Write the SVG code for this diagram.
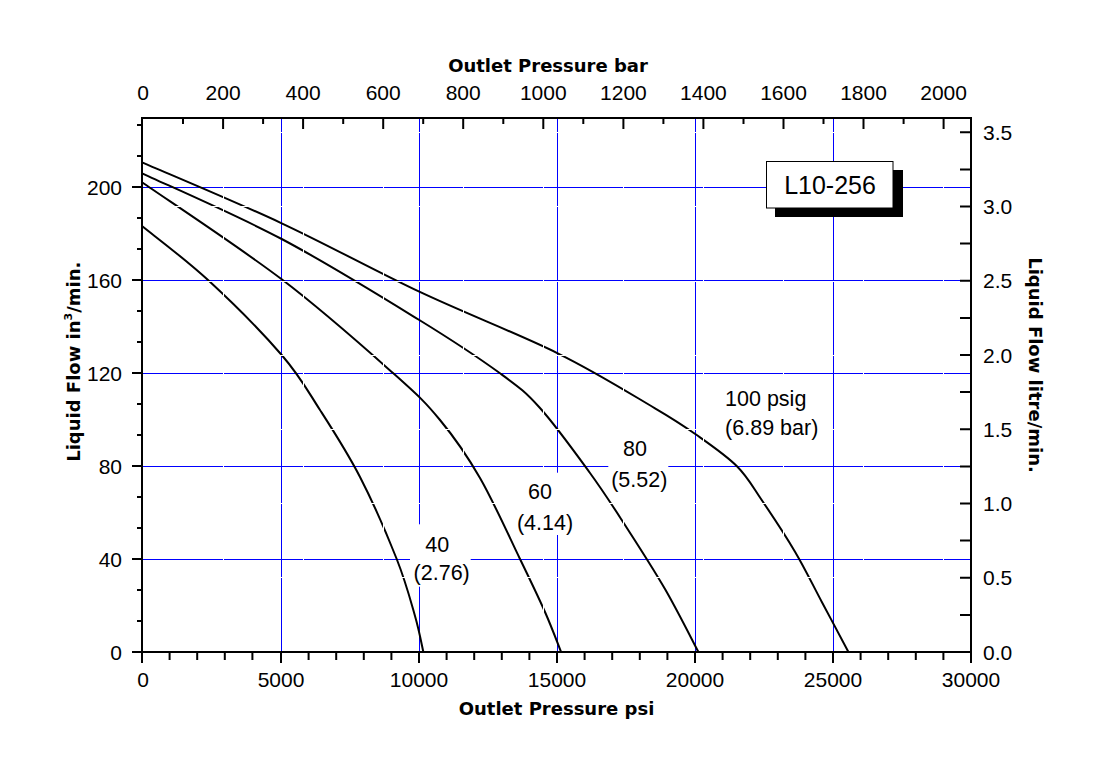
<svg xmlns="http://www.w3.org/2000/svg" width="1099" height="775" viewBox="0 0 1099 775">
<style>
.grid{stroke:#0000ff;stroke-width:1;fill:none}
.wgrid{stroke:#ffffff;stroke-width:1;fill:none}
.axis{stroke:#000;stroke-width:2;fill:none}
.tick{stroke:#000;stroke-width:2;fill:none}
.curve{stroke:#000;stroke-width:2;fill:none;stroke-linejoin:round;stroke-linecap:round}
.tl{font-family:"Liberation Sans",Arial,sans-serif;font-size:21px;fill:#000}
.title{font-family:"DejaVu Sans",Verdana,sans-serif;font-weight:bold;font-size:18px;fill:#000}
.cl{font-family:"Liberation Sans",Arial,sans-serif;font-size:21.5px;fill:#000;text-anchor:middle}
</style>
<rect x="0" y="0" width="1099" height="775" fill="#fff"/>
<g id="grid">
<path class="grid" d="M281.5,119V651M419.5,119V651M557.5,119V651M695.5,119V651M833.5,119V651M143,187.5H970M143,280.5H970M143,373.5H970M143,466.5H970M143,559.5H970"/>
</g>
<g id="curves">
<path id="c100" class="curve" d="M142,162.3 C165.3,172.5 235.5,201.7 281.7,223.3 C327.9,244.9 373.3,270 419.3,291.7 C465.3,313.4 518.4,333.9 557.7,353.3 C597,372.7 632,394.8 655,408.3 C678,421.8 682.1,424.7 695.7,434.3 C709.3,443.9 725.7,455.05 736.7,466 C747.7,476.95 752,485.7 761.7,500 C771.4,514.3 785,534.75 795,551.7 C805,568.65 812.8,585 821.7,601.7 C830.6,618.4 843.9,643.4 848.3,651.7"/>
<path id="c80" class="curve" d="M142,173.3 C165.3,184.25 235.5,214.55 281.7,239 C327.9,263.45 382.9,297.6 419.3,320 C455.7,342.4 479.88,358.63 500,373.3 C520.12,387.97 525,391.38 540,408 C555,424.62 575.83,453.5 590,473 C604.17,492.5 612.5,505.67 625,525 C637.5,544.33 652.78,567.88 665,589 C677.22,610.12 692.75,641.25 698.3,651.7"/>
<path id="c60" class="curve" d="M142,182.3 C165.3,198.5 239.8,247.5 281.7,279.3 C323.6,311.1 366.9,349.85 393.3,373.3 C419.7,396.75 425.55,402.55 440,420 C454.45,437.45 466.67,454.83 480,478 C493.33,501.17 509.17,536.67 520,559 C530.83,581.33 538.17,596.55 545,612 C551.83,627.45 558.33,645.08 561,651.7"/>
<path id="c40" class="curve" d="M142,226 C153.05,235.05 185.02,258.8 208.3,280.3 C231.58,301.8 263.08,333.38 281.7,355 C300.32,376.62 306.95,389.67 320,410 C333.05,430.33 347.22,452.17 360,477 C372.78,501.83 387.53,535.83 396.7,559 C405.87,582.17 410.57,600.55 415,616 C419.43,631.45 421.92,645.75 423.3,651.7"/>
</g>
<g id="secondary-grid">
<path class="wgrid" d="M223.5,119V651M303.5,119V651M383.5,119V651M463.5,119V651M543.5,119V651M623.5,119V651M703.5,119V651M783.5,119V651M863.5,119V651M943.5,119V651M143,132.5H970M143,206.5H970M143,281.5H970M143,355.5H970M143,429.5H970M143,503.5H970M143,577.5H970"/>
</g>
<g id="label-40">
<rect x="410" y="524.3" width="60.7" height="62.4" fill="#fff"/>
<text class="cl" x="437.3" y="551.7">40</text>
<text class="cl" x="441.7" y="579.5">(2.76)</text>
</g>
<g id="label-60">
<rect x="512" y="472.7" width="66" height="62.3" fill="#fff"/>
<text class="cl" x="540" y="499">60</text>
<text class="cl" x="545" y="530">(4.14)</text>
</g>
<g id="label-80">
<rect x="608.3" y="437" width="60" height="58" fill="#fff"/>
<text class="cl" x="635" y="456">80</text>
<text class="cl" x="639.3" y="486.7">(5.52)</text>
</g>
<g id="label-100">
<rect x="716" y="384" width="108" height="60" fill="#fff"/>
<text class="cl" x="765.7" y="405.7">100 psig</text>
<text class="cl" x="771.7" y="435">(6.89 bar)</text>
</g>
<g id="axes">
<path class="axis" d="M142,118H971V652H142Z"/>
<path class="tick" d="M142,652v11M169.6,652v8M197.2,652v8M224.8,652v8M252.4,652v8M281,652v11M308.6,652v8M336.2,652v8M363.8,652v8M391.4,652v8M419,652v11M446.6,652v8M474.2,652v8M501.8,652v8M529.4,652v8M557,652v11M584.6,652v8M612.2,652v8M639.8,652v8M667.4,652v8M695,652v11M722.6,652v8M750.2,652v8M777.8,652v8M805.4,652v8M833,652v11M860.6,652v8M888.2,652v8M915.8,652v8M943.4,652v8M971,652v11"/>
<path class="tick" d="M183,118v6M223.1,118v11M263.1,118v6M303.1,118v11M343.2,118v6M383.2,118v11M423.2,118v6M463.2,118v11M503.3,118v6M543.3,118v11M583.3,118v6M623.4,118v11M663.4,118v6M703.4,118v11M743.5,118v6M783.5,118v11M823.5,118v6M863.5,118v11M903.6,118v6M943.6,118v11"/>
<path class="tick" d="M142,652h-10M142,621h-5M142,590h-5M142,559h-10M142,528h-5M142,497h-5M142,466h-10M142,435h-5M142,404h-5M142,373h-10M142,342h-5M142,311h-5M142,280h-10M142,249h-5M142,218h-5M142,187h-10M142,156h-5M142,125h-5"/>
<path class="tick" d="M971,614.9h-11M971,577.75h-11M971,540.6h-11M971,503.5h-11M971,466.4h-11M971,429.25h-11M971,392.1h-11M971,355h-11M971,317.9h-11M971,280.75h-11M971,243.6h-11M971,206.5h-11M971,169.4h-11M971,132.25h-11"/>
</g>
<g id="bottom-labels" class="tl" text-anchor="middle">
<text x="143" y="687">0</text>
<text x="281" y="687">5000</text>
<text x="419" y="687">10000</text>
<text x="557" y="687">15000</text>
<text x="695" y="687">20000</text>
<text x="833" y="687">25000</text>
<text x="971" y="687">30000</text>
</g>
<g id="top-labels" class="tl" text-anchor="middle">
<text x="143" y="100">0</text>
<text x="223.1" y="100">200</text>
<text x="303.1" y="100">400</text>
<text x="383.2" y="100">600</text>
<text x="463.2" y="100">800</text>
<text x="543.3" y="100">1000</text>
<text x="623.4" y="100">1200</text>
<text x="703.4" y="100">1400</text>
<text x="783.5" y="100">1600</text>
<text x="863.5" y="100">1800</text>
<text x="943.6" y="100">2000</text>
</g>
<g id="left-labels" class="tl" text-anchor="end">
<text x="122" y="659.5">0</text>
<text x="122" y="566.5">40</text>
<text x="122" y="473.5">80</text>
<text x="122" y="380.5">120</text>
<text x="122" y="287.5">160</text>
<text x="122" y="194.5">200</text>
</g>
<g id="right-labels" class="tl">
<text x="983" y="659.5">0.0</text>
<text x="983" y="585.2">0.5</text>
<text x="983" y="511">1.0</text>
<text x="983" y="436.7">1.5</text>
<text x="983" y="362.5">2.0</text>
<text x="983" y="288.2">2.5</text>
<text x="983" y="214">3.0</text>
<text x="983" y="139.7">3.5</text>
</g>
<g id="titles">
<text class="title" x="548" y="71.7" text-anchor="middle">Outlet Pressure bar</text>
<text class="title" x="556.5" y="715" text-anchor="middle">Outlet Pressure psi</text>
<text class="title" transform="translate(80,361.7) rotate(-90)" text-anchor="middle">Liquid Flow in<tspan dy="-8" font-size="11px">3</tspan><tspan dy="8">/min.</tspan></text>
<text class="title" transform="translate(1029,365) rotate(90)" text-anchor="middle">Liquid Flow litre/min.</text>
</g>
<g id="model-box">
<rect x="775" y="170" width="128" height="47" fill="#000"/>
<rect x="766.5" y="161.5" width="126.5" height="46.5" fill="#fff" stroke="#000" stroke-width="1"/>
<text x="830" y="194" text-anchor="middle" font-family="Liberation Sans, Arial, sans-serif" font-size="25px">L10-256</text>
</g>
</svg>
